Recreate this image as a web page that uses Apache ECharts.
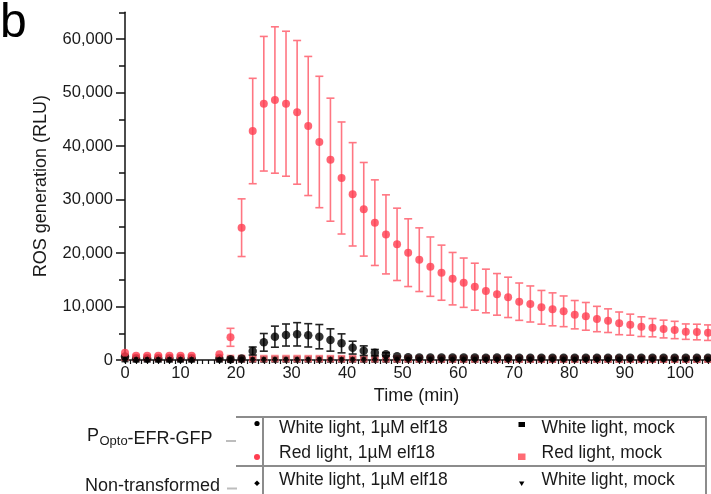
<!DOCTYPE html>
<html><head><meta charset="utf-8">
<script src="https://cdn.jsdelivr.net/npm/echarts@6/dist/echarts.min.js"></script>
<style>html,body{margin:0;padding:0;background:#fff}#c{width:711px;height:494px}</style>
</head><body><div id="c"></div>
<script>
// ---- data ----
const times = [0,2,4,6,8,10,12,17,19,21,23,25,27,29,31,33,35,37,39,41,43,45,47,49,51,53,55,57,59,61,63,65,67,69,71,73,75,77,79,81,83,85,87,89,91,93,95,97,99,101,103,105];
// P_Opto-EFR-GFP, Red light, 1uM elf18 (mean, error)
const redElf = [1360,800,800,800,800,800,800,1060,4240,24730,42800,47900,48600,47900,46290,43740,40750,37440,34020,30970,28170,25670,23480,21620,20060,18750,17450,16320,15200,14450,13700,12900,12270,11710,10900,10470,9850,9470,9100,8470,8160,7660,7350,6850,6600,6230,6040,5790,5610,5300,5230,5110];
const redElfErr = [200,150,150,150,150,150,150,200,1680,5390,9850,12580,13680,13550,13430,13000,12280,11500,10470,9660,8750,8000,7390,6760,6330,5950,5550,5150,4900,4610,4390,4080,3890,3770,3490,3370,3150,3080,2870,2650,2590,2370,2210,2120,1970,1840,1710,1660,1620,1440,1460,1450];
// P_Opto-EFR-GFP, White light, 1uM elf18
const whiteElf = [650,300,300,300,300,300,300,300,150,300,1680,3300,4360,4670,4800,4610,4360,3740,3110,2310,1740,1370,1060,700,520,480,470,460,450,450,450,440,450,440,440,430,440,430,430,420,430,420,420,420,410,420,410,410,400,410,400,400];
const whiteElfErr = [200,100,100,100,100,100,100,100,100,150,750,1650,1970,2060,2180,2180,2270,2085,1775,1200,900,600,300,200,100,100,100,100,100,100,100,100,100,100,100,100,100,100,100,100,100,100,100,100,100,100,100,100,100,100,100,100];
// P_Opto-EFR-GFP, Red light, mock
const redMock = [500,450,450,450,450,450,450,450,300,290,280,280,280,280,280,270,270,270,260,260,260,250,250,240,230,230,220,220,220,210,210,210,200,200,200,200,200,190,190,190,190,190,180,180,180,180,180,170,170,170,170,170];
// P_Opto-EFR-GFP, White light, mock
const whiteMock = [200,150,150,150,150,150,150,150,130,130,130,130,130,130,130,130,130,130,130,130,130,120,120,120,120,120,120,120,120,120,120,120,120,120,120,120,120,120,120,120,120,120,120,120,120,120,120,120,120,120,120,120];
// Non-transformed, White light, 1uM elf18
const ntElf = [60,50,50,50,50,50,50,50,50,50,50,50,50,50,50,50,50,50,50,50,50,50,50,50,50,50,50,50,50,50,50,50,50,50,50,50,50,50,50,50,50,50,50,50,50,50,50,50,50,50,50,50];
// Non-transformed, White light, mock
const ntMock = [30,30,30,30,30,30,30,30,30,30,30,30,30,30,30,30,30,30,30,30,30,30,30,30,30,30,30,30,30,30,30,30,30,30,30,30,30,30,30,30,30,30,30,30,30,30,30,30,30,30,30,30];

const xLabelTicks = [0,10,20,30,40,50,60,70,80,90,100];
const yLabelTicks = [0,10000,20000,30000,40000,50000,60000];
const yMinorTicks = [0,5000,10000,15000,20000,25000,30000,35000,40000,45000,50000,55000,60000,65000];
const xMinorTicks = [];
for (let t = 0; t <= 105; t++) xMinorTicks.push(t);

// ---- styling ----
const FONT = 'Liberation Sans, Arial, Helvetica, sans-serif';
const INK = '#1a1a1a';
const RED = '#ff3d50';
const RED_ERR = '#ff7682';
const RED_SQ = '#ff6b74';

function pts(vals) { return times.map((t, i) => [t, vals[i]]); }
function errs(vals, e) {
  const out = [];
  times.forEach((t, i) => { if (e[i] >= 250) out.push([t, vals[i] - e[i], vals[i] + e[i]]); });
  return out;
}
function errRender(color) {
  return function (params, api) {
    const x = api.value(0);
    const pLo = api.coord([x, api.value(1)]);
    const pHi = api.coord([x, api.value(2)]);
    const w = 4;
    const style = { stroke: color, lineWidth: 1.6, fill: null };
    return { type: 'group', children: [
      { type: 'line', shape: { x1: pLo[0], y1: pLo[1], x2: pHi[0], y2: pHi[1] }, style: style },
      { type: 'line', shape: { x1: pLo[0] - w, y1: pLo[1], x2: pLo[0] + w, y2: pLo[1] }, style: style },
      { type: 'line', shape: { x1: pHi[0] - w, y1: pHi[1], x2: pHi[0] + w, y2: pHi[1] }, style: style }
    ]};
  };
}

const chart = echarts.init(document.getElementById('c'), null, { renderer: 'canvas' });
const lineGray = { stroke: '#8c8c8c', lineWidth: 2 };
const txt = (x, y, s, size, align) => ({ type: 'text', x: x, y: y, silent: true,
  style: { text: s, fontSize: size, fontFamily: FONT, fill: INK, align: align || 'left', verticalAlign: 'middle' } });

chart.setOption({
  animation: false,
  backgroundColor: '#fff',
  grid: { left: 125, right: 3, top: 12.25, bottom: 134, containLabel: false },
  xAxis: {
    type: 'value', min: 0, max: 105,
    axisLine: { show: true, onZero: true, lineStyle: { color: '#111', width: 1.5 } },
    axisTick: { show: true, customValues: xMinorTicks, length: 4, lineStyle: { color: '#111', width: 1.2 } },
    axisLabel: { customValues: xLabelTicks, margin: 5, fontSize: 16.5, color: INK, fontFamily: FONT },
    splitLine: { show: false },
    name: 'Time (min)', nameLocation: 'middle', nameGap: 27,
    nameTextStyle: { fontSize: 18, color: INK, fontFamily: FONT }
  },
  yAxis: [{
    type: 'value', min: 0, max: 65000, position: 'left',
    axisLine: { show: true, lineStyle: { color: '#111', width: 1.5 } },
    axisTick: { show: true, customValues: yMinorTicks, length: 6, lineStyle: { color: '#111', width: 1.5 } },
    axisLabel: { customValues: yLabelTicks, margin: 12, fontSize: 16.5, color: INK, fontFamily: FONT,
      formatter: v => Number(v).toLocaleString('en-US') },
    splitLine: { show: false },
    name: 'ROS generation (RLU)', nameLocation: 'middle', nameGap: 75,
    nameTextStyle: { fontSize: 18, color: INK, fontFamily: FONT }
  }, {
    type: 'value', min: 0, max: 65000, position: 'left',
    axisLine: { show: false },
    axisTick: { show: true, customValues: yLabelTicks, length: 9, lineStyle: { color: '#111', width: 1.5 } },
    axisLabel: { show: false }, splitLine: { show: false }
  }],
  series: [
    { name: 'White light, mock', type: 'scatter', data: pts(whiteMock), symbol: 'rect', symbolSize: 7,
      itemStyle: { color: '#000' }, z: 2 },
    { name: 'Red light, mock', type: 'scatter', data: pts(redMock), symbol: 'rect', symbolSize: 7.5,
      itemStyle: { color: RED_SQ }, z: 3 },
    { type: 'custom', data: errs(whiteElf, whiteElfErr), encode: { x: 0, y: [1, 2] },
      renderItem: errRender('#222'), z: 4 },
    { name: 'White light, 1µM elf18', type: 'scatter', data: pts(whiteElf), symbol: 'circle', symbolSize: 8.5,
      itemStyle: { color: '#000' }, z: 5 },
    { type: 'custom', data: errs(redElf, redElfErr), encode: { x: 0, y: [1, 2] },
      renderItem: errRender(RED_ERR), z: 6 },
    { name: 'Red light, 1µM elf18', type: 'scatter', data: pts(redElf), symbol: 'circle', symbolSize: 8,
      itemStyle: { color: RED }, z: 7 },
    { name: 'NT White light, 1µM elf18', type: 'scatter', data: pts(ntElf), symbol: 'diamond', symbolSize: 7,
      itemStyle: { color: '#000' }, z: 8 },
    { name: 'NT White light, mock', type: 'scatter', data: pts(ntMock), symbol: 'triangle', symbolRotate: 180, symbolSize: 5,
      itemStyle: { color: '#000' }, z: 9 }
  ],
  graphic: [
    { type: 'text', x: 0, y: 24, silent: true,
      style: { text: 'b', fontSize: 48, fontFamily: FONT, fill: '#000', align: 'left', verticalAlign: 'middle' } },
    // legend table
    { type: 'line', shape: { x1: 236, y1: 417, x2: 707, y2: 417 }, style: lineGray },
    { type: 'line', shape: { x1: 236, y1: 466, x2: 707, y2: 466 }, style: lineGray },
    { type: 'line', shape: { x1: 263, y1: 417, x2: 263, y2: 494 }, style: lineGray },
    { type: 'line', shape: { x1: 706, y1: 416, x2: 706, y2: 494 }, style: lineGray },
    { type: 'line', shape: { x1: 226, y1: 441, x2: 236, y2: 441 }, style: { stroke: '#bdbdbd', lineWidth: 2 } },
    { type: 'line', shape: { x1: 227, y1: 488.5, x2: 237, y2: 488.5 }, style: { stroke: '#bdbdbd', lineWidth: 2 } },
    // group labels
    txt(87, 436.5, 'P', 18),
    txt(99.5, 441, 'Opto', 13),
    txt(127.5, 439.5, '-EFR-GFP', 18),
    txt(220, 486, 'Non-transformed', 18, 'right'),
    // legend icons
    { type: 'circle', shape: { cx: 257, cy: 423.5, r: 2.6 }, style: { fill: '#000' } },
    { type: 'circle', shape: { cx: 257, cy: 457, r: 3 }, style: { fill: RED } },
    { type: 'polygon', shape: { points: [[257, 480.5], [259.8, 483.3], [257, 486.1], [254.2, 483.3]] }, style: { fill: '#000' } },
    { type: 'rect', shape: { x: 518.5, y: 422, width: 6.5, height: 5 }, style: { fill: '#000' } },
    { type: 'rect', shape: { x: 518, y: 453.5, width: 7.5, height: 6.5 }, style: { fill: RED_SQ } },
    { type: 'polygon', shape: { points: [[519, 481.5], [524.4, 481.5], [521.7, 486]] }, style: { fill: '#000' } },
    // legend texts
    txt(279, 428, 'White light, 1µM elf18', 17.5),
    txt(279, 453, 'Red light, 1µM elf18', 17.5),
    txt(279, 480, 'White light, 1µM elf18', 17.5),
    txt(541.5, 428, 'White light, mock', 17.5),
    txt(541.5, 453, 'Red light, mock', 17.5),
    txt(541.5, 480, 'White light, mock', 17.5)
  ]
});
</script>
</body></html>
